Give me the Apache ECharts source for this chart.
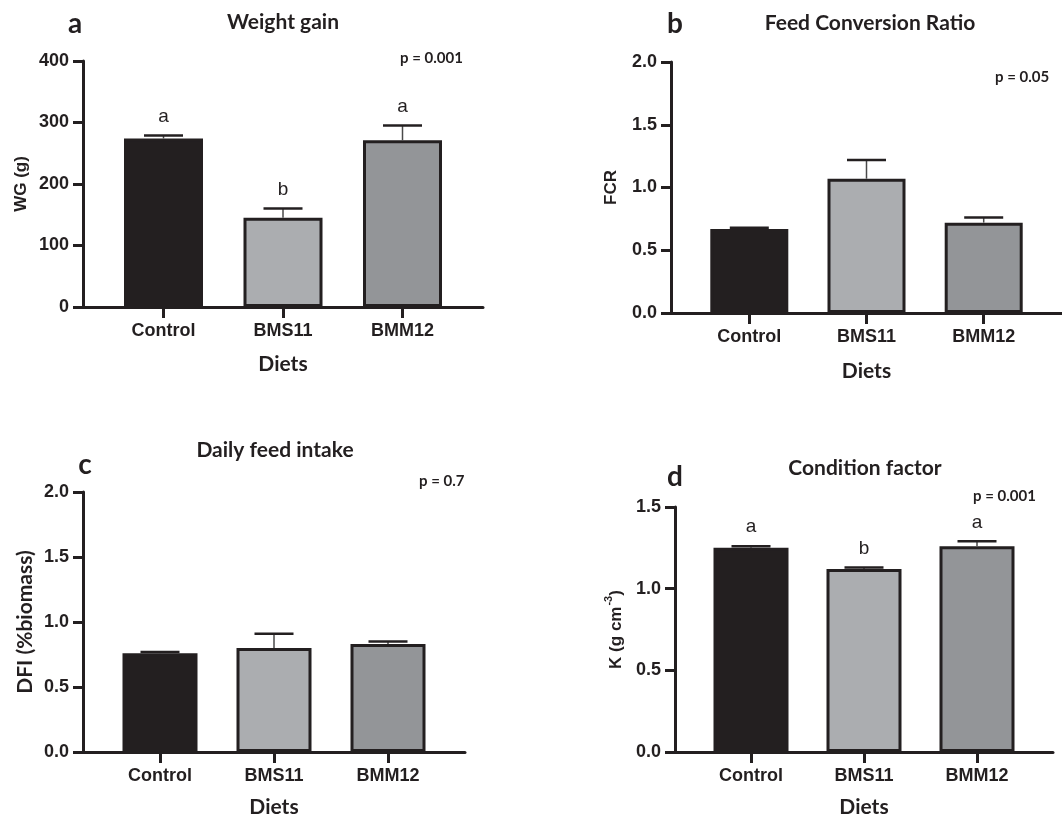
<!DOCTYPE html>
<html>
<head>
<meta charset="utf-8">
<script src="https://cdn.jsdelivr.net/npm/echarts@6/dist/echarts.min.js"></script>
<style>html,body{margin:0;padding:0;background:#fff}#c{width:1062px;height:820px}</style>
</head>
<body>
<div id="c"></div>
<script>
// ---- data ----
const categories = ['Control', 'BMS11', 'BMM12'];
const wgMean = [274, 145, 271];
const wgErr = [5, 15, 24];
const wgLetters = ['a', 'b', 'a'];
const fcrMean = [0.67, 1.07, 0.72];
const fcrErr = [0.01, 0.15, 0.04];
const dfiMean = [0.76, 0.80, 0.83];
const dfiErr = [0.01, 0.11, 0.02];
const kMean = [1.25, 1.12, 1.26];
const kErr = [0.01, 0.01, 0.03];
const kLetters = ['a', 'b', 'a'];
const wgTicks = [0, 100, 200, 300, 400];
const fcrTicks = [0, 0.5, 1.0, 1.5, 2.0];
const dfiTicks = [0, 0.5, 1.0, 1.5, 2.0];
const kTicks = [0, 0.5, 1.0, 1.5];

const barColors = ['#231f20', '#abadb0', '#939598'];
const ink = '#231f20';
const titleFont = 'Lato';
const tickFont = '"Liberation Sans", Arial, sans-serif';

const panels = [
  { mean: wgMean, err: wgErr, letters: wgLetters, ticks: wgTicks, dec: 0,
    grid: { left: 83, top: 61, width: 400, height: 246 }, spacing: 119.5, barW: 79,
    yName: 'WG (g)', yFont: tickFont, ySize: 17, yGap: 53, xGap: 47 },
  { mean: fcrMean, err: fcrErr, letters: null, ticks: fcrTicks, dec: 1,
    grid: { left: 671, top: 62, width: 396, height: 251 }, spacing: 118.7, barW: 78,
    yName: 'FCR', yFont: tickFont, ySize: 17, yGap: 51, xGap: 48 },
  { mean: dfiMean, err: dfiErr, letters: null, ticks: dfiTicks, dec: 1,
    grid: { left: 83, top: 492, width: 382, height: 260 }, spacing: 114, barW: 75,
    yName: 'DFI (%biomass)', yFont: titleFont, ySize: 21, yGap: 47, xGap: 45 },
  { mean: kMean, err: kErr, letters: kLetters, ticks: kTicks, dec: 1,
    grid: { left: 675, top: 507, width: 378, height: 245 }, spacing: 113, barW: 75,
    yName: '{n|K (g cm}{s|-3}{n|)}', yFont: tickFont, ySize: 17, yGap: 50, xGap: 45 }
];

const grids = [], xAxes = [], yAxes = [], series = [];
panels.forEach((p, i) => {
  grids.push(Object.assign({ containLabel: false }, p.grid));
  const units = p.grid.width / p.spacing;
  const xmin = -(units - 2) / 2;
  xAxes.push({
    type: 'value', gridIndex: i, min: xmin, max: 2 - xmin,
    name: 'Diets', nameLocation: 'middle', nameGap: p.xGap,
    nameTextStyle: { fontFamily: titleFont, fontWeight: 'bold', fontSize: 21, color: ink },
    axisLine: { show: true, onZero: false, lineStyle: { color: ink, width: 3 } },
    axisTick: { show: true, length: 11, inside: false, customValues: [0, 1, 2], lineStyle: { color: ink, width: 3 } },
    axisLabel: { show: true, customValues: [0, 1, 2], margin: 15, formatter: v => categories[Math.round(v)] || '',
      fontFamily: tickFont, fontWeight: 'bold', fontSize: 18, color: ink },
    splitLine: { show: false }
  });
  const yMax = p.ticks[p.ticks.length - 1];
  yAxes.push({
    type: 'value', gridIndex: i, min: 0, max: yMax, interval: p.ticks[1] - p.ticks[0],
    name: p.yName, nameLocation: 'middle', nameRotate: 90, nameGap: p.yGap,
    nameTextStyle: { fontFamily: p.yFont, fontWeight: 'bold', fontSize: p.ySize, color: ink,
      rich: {
        n: { fontFamily: p.yFont, fontWeight: 'bold', fontSize: p.ySize, color: ink, lineHeight: 22, verticalAlign: 'bottom' },
        s: { fontFamily: p.yFont, fontWeight: 'bold', fontSize: 11, color: ink, lineHeight: 22, verticalAlign: 'top', padding: [0, 0, 10, 1] }
      } },
    axisLine: { show: true, onZero: false, lineStyle: { color: ink, width: 3 } },
    axisTick: { show: true, length: 10, inside: false, lineStyle: { color: ink, width: 3 } },
    axisLabel: { margin: 14, formatter: v => v.toFixed(p.dec),
      fontFamily: tickFont, fontWeight: 'bold', fontSize: 18, color: ink },
    splitLine: { show: false }
  });
  series.push({
    type: 'bar', xAxisIndex: i, yAxisIndex: i, barWidth: p.barW, silent: true,
    data: p.mean.map((m, j) => ({ value: [j, m], itemStyle: { color: barColors[j] } })),
    itemStyle: { borderColor: ink, borderWidth: 3 }, z: 2
  });
  series.push({
    type: 'custom', xAxisIndex: i, yAxisIndex: i, silent: true, z: 3,
    data: p.mean.map((m, j) => [j, m, p.err[j]]),
    encode: { x: 0, y: 1 },
    renderItem: (params, api) => {
      const x = api.value(0), m = api.value(1), e = api.value(2);
      const b = api.coord([x, m]);
      const t = api.coord([x, m + e]);
      const half = 19.5;
      const children = [
        { type: 'line', shape: { x1: b[0], y1: b[1], x2: t[0], y2: t[1] }, style: { stroke: '#4a4a4a', lineWidth: 1.5 } },
        { type: 'line', shape: { x1: t[0] - half, y1: t[1], x2: t[0] + half, y2: t[1] }, style: { stroke: ink, lineWidth: 2.5 } }
      ];
      if (p.letters) {
        children.push({ type: 'text', style: { text: p.letters[params.dataIndex], x: t[0], y: t[1] - 19,
          align: 'center', verticalAlign: 'middle', fontFamily: tickFont, fontSize: 19, fill: ink } });
      }
      return { type: 'group', children };
    }
  });
});

function txt(text, x, y, size, align) {
  return { type: 'text', x: x, y: y, silent: true,
    style: { text: text, fontFamily: titleFont, fontWeight: 'bold', fontSize: size, fill: ink,
      align: align || 'center', verticalAlign: 'middle' } };
}
const graphics = [
  txt('a', 75, 24, 28), txt('Weight gain', 283, 22, 21), txt('p = 0.001', 400, 58, 15, 'left'),
  txt('b', 675, 24, 28), txt('Feed Conversion Ratio', 870, 23, 21), txt('p = 0.05', 995, 77, 15, 'left'),
  txt('c', 85, 465, 28), txt('Daily feed intake', 275, 450, 21), txt('p = 0.7', 419, 481, 15, 'left'),
  txt('d', 675, 477, 28), txt('Condition factor', 865, 468, 21), txt('p = 0.001', 973, 496, 15, 'left')
];

const chart = echarts.init(document.getElementById('c'), null, { renderer: 'canvas' });
chart.setOption({
  backgroundColor: '#ffffff',
  animation: false,
  grid: grids, xAxis: xAxes, yAxis: yAxes, series: series,
  graphic: graphics
});
</script>
</body>
</html>
